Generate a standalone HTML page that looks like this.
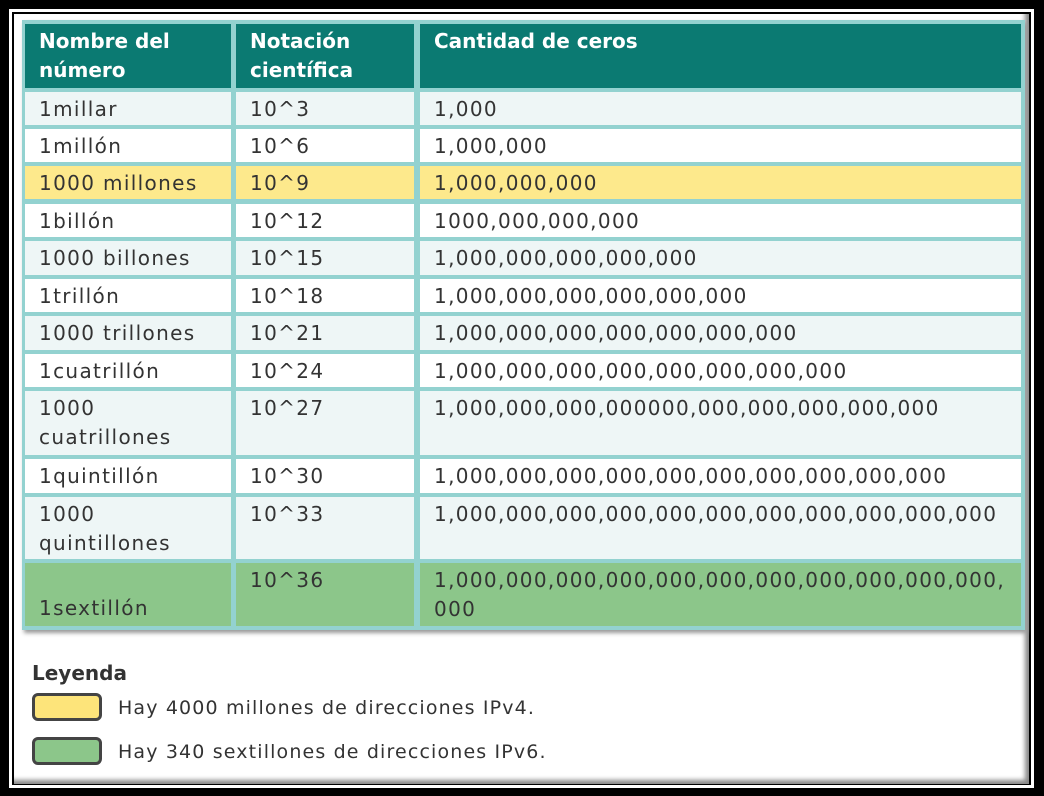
<!DOCTYPE html>
<html><head><meta charset="utf-8"><style>
*{margin:0;padding:0;box-sizing:border-box}
body{width:1044px;height:796px;background:#000;position:relative;overflow:hidden;font-family:"DejaVu Sans",sans-serif}
.frame{position:absolute;left:9px;top:9px;width:1025px;height:779px;border:3px solid #fff}
.content{position:absolute;left:14px;top:14px;width:1015px;height:770px;background:#fff;box-shadow:inset -4px -4px 5px #888}
.tbl{position:absolute;left:22px;top:20px;width:1003px;height:610px;background:#93d2d0;box-shadow:2px 3px 4px #999}
.c{position:absolute;font-size:20px;color:#333;padding:3px 0 0 14px;line-height:29px;letter-spacing:1.35px;white-space:nowrap}
.h{background:#0b7a72;color:#fff;font-weight:bold;line-height:29px;padding-top:3px;letter-spacing:0}
.lg{position:absolute;font-size:19px;color:#333;letter-spacing:1.15px}
.box{position:absolute;left:32px;width:70px;height:28px;border:3px solid #444;border-radius:6px}
</style></head><body>
<div class="frame"></div>
<div class="content"></div>
<div class="tbl"></div>
<div id="cells"></div>
<div class="lg" style="left:32px;top:661px;font-weight:bold;font-size:20px;letter-spacing:0">Leyenda</div>
<div class="box" style="top:693px;background:#fde47a"></div>
<div class="lg" style="left:118px;top:697px">Hay 4000 millones de direcciones IPv4.</div>
<div class="box" style="top:737px;background:#8cc68a"></div>
<div class="lg" style="left:118px;top:741px">Hay 340 sextillones de direcciones IPv6.</div>
<script>
const names=["1millar","1millón","1000 millones","1billón","1000 billones","1trillón","1000 trillones","1cuatrillón","1000<br>cuatrillones","1quintillón","1000<br>quintillones","<br>1sextillón"];
const notations=["10^3","10^6","10^9","10^12","10^15","10^18","10^21","10^24","10^27","10^30","10^33","10^36"];
const zeros=["1,000","1,000,000","1,000,000,000","1000,000,000,000","1,000,000,000,000,000","1,000,000,000,000,000,000","1,000,000,000,000,000,000,000","1,000,000,000,000,000,000,000,000","1,000,000,000,000000,000,000,000,000,000","1,000,000,000,000,000,000,000,000,000,000","1,000,000,000,000,000,000,000,000,000,000,000","1,000,000,000,000,000,000,000,000,000,000,000,<br>000"];
const rowTops=[92,129,166,204,241,279,316,354,391,459,497,563];
const rowH=[33,33,33,33,34,33,34,33,64,34,62,63];
const bgs=["#eef6f6","#fff","#fde98c","#fff","#eef6f6","#fff","#eef6f6","#fff","#eef6f6","#fff","#eef6f6","#8cc68a"];
const cols=[[25,206],[236,178],[420,601]];
const root=document.getElementById('cells');
function mk(x,y,w,h,html,cls,bg){const d=document.createElement('div');d.className='c '+(cls||'');d.style.cssText=`left:${x}px;top:${y}px;width:${w}px;height:${h}px;`+(bg?`background:${bg}`:'');d.innerHTML=html;root.appendChild(d);return d;}
const heads=["Nombre del<br>número","Notación<br>científica","Cantidad de ceros"];
heads.forEach((t,i)=>{const d=mk(cols[i][0],24,cols[i][1],64,t,'h');

});
for(let r=0;r<names.length;r++){
 [names[r],notations[r],zeros[r]].forEach((t,i)=>{
  const d=mk(cols[i][0],rowTops[r],cols[i][1],rowH[r],t,'',bgs[r]);
  if(r===11&&i===0)d.style.paddingTop='2px';
  
  
 });
}
</script>
</body></html>
